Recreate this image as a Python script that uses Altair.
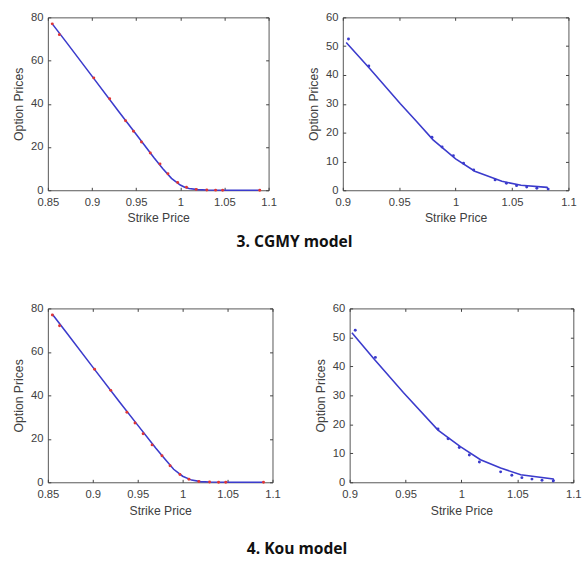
import altair as alt
import pandas as pd

# ---------------- data ----------------
# market prices (dots), shared by both models
mkt_left_k = [0.855, 0.863, 0.902, 0.920, 0.938, 0.947, 0.956, 0.966, 0.977, 0.986, 0.997, 1.007, 1.018, 1.030, 1.040, 1.048, 1.090]
mkt_left_p = [77.0, 72.0, 52.0, 42.3, 32.2, 27.3, 22.3, 17.2, 12.2, 7.6, 3.6, 1.4, 0.4, 0.15, 0.05, 0.02, 0.0]

mkt_right_k = [0.905, 0.923, 0.979, 0.988, 0.998, 1.007, 1.016, 1.035, 1.045, 1.054, 1.063, 1.072, 1.082]
mkt_right_p = [52.5, 43.1, 18.4, 15.0, 12.0, 9.4, 7.0, 3.6, 2.4, 1.6, 1.1, 0.7, 0.4]

# CGMY model prices (lines)
cgmy_left_k = [0.855, 0.870, 0.900, 0.930, 0.950, 0.970, 0.980, 0.990, 1.000, 1.005, 1.010, 1.020, 1.030, 1.050, 1.090]
cgmy_left_p = [77.0, 69.0, 52.8, 36.6, 25.9, 15.2, 10.1, 5.5, 2.4, 1.4, 0.8, 0.3, 0.1, 0.02, 0.0]
cgmy_right_k = [0.903, 0.924, 0.951, 0.965, 0.980, 1.000, 1.017, 1.041, 1.058, 1.081, 1.082]
cgmy_right_p = [51.3, 42.2, 30.0, 24.0, 17.5, 10.9, 6.6, 3.1, 1.7, 1.0, 0.4]

# Kou model prices (lines)
kou_left_k = [0.855, 0.870, 0.900, 0.930, 0.950, 0.970, 0.980, 0.990, 1.000, 1.010, 1.020, 1.030, 1.050, 1.090]
kou_left_p = [77.3, 69.3, 53.0, 36.8, 26.3, 15.8, 10.8, 6.0, 2.8, 1.0, 0.3, 0.1, 0.02, 0.0]
kou_right_k = [0.902, 0.922, 0.948, 0.979, 0.999, 1.017, 1.035, 1.053, 1.082, 1.083]
kou_right_p = [51.6, 42.5, 31.0, 18.0, 12.3, 7.8, 4.9, 2.6, 1.1, 0.4]

left_xticks = [0.85, 0.9, 0.95, 1.0, 1.05, 1.1]
left_yticks = [0, 20, 40, 60, 80]
right_xticks = [0.9, 0.95, 1.0, 1.05, 1.1]
right_yticks = [0, 10, 20, 30, 40, 50, 60]

BLUE = "#3b3bcc"
RED = "#e03535"
AXC = "#404040"
FONT = "Liberation Sans"


def panel(lk, lp, dk, dp, xdom, ydom, xt, yt, dot_color, w, h):
    xs = alt.Scale(domain=xdom, nice=False, zero=False)
    ys = alt.Scale(domain=ydom, nice=False, zero=False)
    line_df = pd.DataFrame({"k": lk, "p": lp})
    dot_df = pd.DataFrame({"k": dk, "p": dp})
    common = dict(grid=False, domain=False, tickColor=AXC, tickSize=3, offset=-3,
                  labelFont=FONT, labelFontSize=11.5, labelColor=AXC,
                  titleFont=FONT, titleFontSize=12.5, titleColor=AXC,
                  titleFontWeight="normal")
    line = alt.Chart(line_df).mark_line(color=BLUE, strokeWidth=1.6).encode(
        x=alt.X("k:Q", scale=xs,
                axis=alt.Axis(orient="bottom", values=xt, format=".3~f",
                              title="Strike Price", labelPadding=7,
                              titlePadding=4, labelFlush=False, **common)),
        y=alt.Y("p:Q", scale=ys,
                axis=alt.Axis(orient="left", values=yt, format="d",
                              title="Option Prices", labelPadding=5,
                              titlePadding=5, labelFlush=False, **common)),
    )
    dots = alt.Chart(dot_df).mark_point(filled=True, size=9, color=dot_color,
                                        opacity=1).encode(
        x=alt.X("k:Q", scale=xs,
                axis=alt.Axis(orient="top", values=xt, labels=False, title=None,
                              **common)),
        y=alt.Y("p:Q", scale=ys,
                axis=alt.Axis(orient="right", values=yt, labels=False, title=None,
                              **common)),
    )
    return alt.layer(line, dots).resolve_axis(x="independent", y="independent") \
        .properties(width=w, height=h)


TITLE_FONT = "Open Sans"

row1 = alt.hconcat(
    panel(cgmy_left_k, cgmy_left_p, mkt_left_k, mkt_left_p, [0.85, 1.1], [0, 80],
          left_xticks, left_yticks, RED, 226, 177),
    panel(cgmy_right_k, cgmy_right_p, mkt_right_k, mkt_right_p, [0.9, 1.1], [0, 60],
          right_xticks, right_yticks, BLUE, 231, 177),
    spacing=30,
).properties(title=alt.Title("3. CGMY model", orient="bottom", anchor="middle",
                             font=TITLE_FONT, fontSize=16, fontWeight="bold",
                             color="#111111", offset=10))

row2 = alt.hconcat(
    panel(kou_left_k, kou_left_p, mkt_left_k, mkt_left_p, [0.85, 1.1], [0, 80],
          left_xticks, left_yticks, RED, 230, 178),
    panel(kou_right_k, kou_right_p, mkt_right_k, mkt_right_p, [0.9, 1.1], [0, 60],
          right_xticks, right_yticks, BLUE, 229, 178),
    spacing=33,
).properties(title=alt.Title("4. Kou model", orient="bottom", anchor="middle",
                             font=TITLE_FONT, fontSize=16, fontWeight="bold",
                             color="#111111", offset=25))

chart = alt.vconcat(row1, row2, spacing=52).properties(
    padding={"left": 12, "top": 4, "right": 5, "bottom": 5},
    background="white",
).configure_view(stroke="#555555", strokeWidth=1)

chart.save("out.html", embed_options={"renderer": "svg", "actions": False})
